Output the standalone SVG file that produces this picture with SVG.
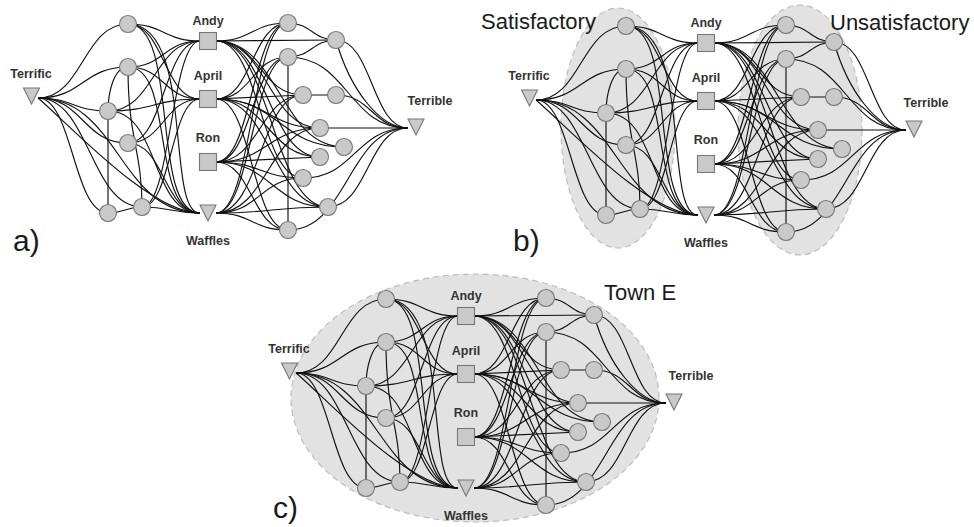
<svg xmlns="http://www.w3.org/2000/svg" xmlns:xlink="http://www.w3.org/1999/xlink" width="974" height="527" viewBox="0 0 974 527">
<style>
.e{fill:none;stroke:#111;stroke-width:1.15}
.c{fill:#c9c9c9;stroke:#777;stroke-width:1.1}
.lb{font-family:"Liberation Sans",Arial,sans-serif;font-weight:bold;font-size:12.5px;fill:#333;text-anchor:middle}
.big{font-family:"Liberation Sans",Arial,sans-serif;font-size:22px;fill:#1a1a1a}
.pl{font-family:"Liberation Sans",Arial,sans-serif;font-size:30px;fill:#1a1a1a}
.grp{fill:#e2e2e2;stroke:#bdbdbd;stroke-width:1.2;stroke-dasharray:6 4}
</style>
<defs>
<circle id="dot" class="c" r="8.5"/>
<rect id="sq" class="c" x="-8.5" y="-8.5" width="17" height="17"/>
<polygon id="tri" class="c" points="-8,-8 8,-8 0,8"/>
<g id="edges" class="e">
<path d="M38 98 C83 98 83 24 128 24"/>
<path d="M38 98 C83 98 83 67 128 67"/>
<path d="M38 98 C73 98 73 111 108 111"/>
<path d="M38 98 C83 98 83 143 128 143"/>
<path d="M38 98 C73 98 73 213 108 213"/>
<path d="M38 98 C90 98 90 207 142 207"/>
<path d="M38 98 C119 98 119 213 200 213"/>
<path d="M38 98 C70 125 150 213 200 213"/>
<path d="M128 24 C164 24 164 41 200 41"/>
<path d="M128 24 C164 24 164 99 200 99"/>
<path d="M128 24 C180 24 150 213 200 213"/>
<path d="M128 24 C195 24 165 213 200 213"/>
<path d="M128 67 C164 67 164 41 200 41"/>
<path d="M128 67 C164 67 164 99 200 99"/>
<path d="M128 67 C175 67 150 213 200 213"/>
<path d="M128 67 C113 67 108 95 108 111"/>
<path d="M108 111 C154 111 154 99 200 99"/>
<path d="M108 111 C154 111 154 41 200 41"/>
<path d="M108 111 C160 111 150 213 200 213"/>
<path d="M128 143 C164 143 164 41 200 41"/>
<path d="M128 143 C164 143 164 99 200 99"/>
<path d="M128 143 C164 143 164 213 200 213"/>
<path d="M128 67 C128 140 142 150 142 207"/>
<path d="M108 111 L108 213"/>
<path d="M142 207 C171 207 171 41 200 41"/>
<path d="M142 207 C171 207 171 99 200 99"/>
<path d="M142 207 C171 207 171 213 200 213"/>
<path d="M108 213 C125 213 125 207 142 207"/>
<path d="M216 41 C252 41 252 23 288 23"/>
<path d="M216 41 L336 40"/>
<path d="M216 41 C260 41 260 95 303 95"/>
<path d="M216 41 C268 41 268 128 320 128"/>
<path d="M216 41 C268 41 268 157 320 157"/>
<path d="M216 41 C260 41 260 178 303 178"/>
<path d="M216 41 C272 41 272 207 328 207"/>
<path d="M216 41 C280 41 280 147 344 147"/>
<path d="M216 99 C252 99 252 23 288 23"/>
<path d="M216 99 C252 99 252 57 288 57"/>
<path d="M216 99 L303 95"/>
<path d="M216 99 C268 99 268 128 320 128"/>
<path d="M216 99 C280 99 280 147 344 147"/>
<path d="M216 99 C268 99 268 157 320 157"/>
<path d="M216 99 C272 99 272 207 328 207"/>
<path d="M216 99 C252 99 252 230 288 230"/>
<path d="M216 162 C252 162 252 23 288 23"/>
<path d="M216 162 C252 162 252 57 288 57"/>
<path d="M216 162 C260 162 260 95 303 95"/>
<path d="M216 162 C268 162 268 128 320 128"/>
<path d="M216 162 L320 157"/>
<path d="M216 162 C260 162 260 178 303 178"/>
<path d="M216 162 C272 162 272 207 328 207"/>
<path d="M216 162 C252 162 252 230 288 230"/>
<path d="M216 213 C252 213 252 23 288 23"/>
<path d="M216 213 C252 213 252 57 288 57"/>
<path d="M216 213 C260 213 260 95 303 95"/>
<path d="M216 213 C268 213 268 128 320 128"/>
<path d="M216 213 C260 213 260 178 303 178"/>
<path d="M216 213 C272 213 272 207 328 207"/>
<path d="M216 213 C252 213 252 230 288 230"/>
<path d="M288 23 C312 23 312 40 336 40"/>
<path d="M288 57 C312 57 312 40 336 40"/>
<path d="M303 95 L336 95"/>
<path d="M288 57 L288 222"/>
<path d="M336 40 C372 40 372 128 408 128"/>
<path d="M336 40 C350 90 380 128 408 128"/>
<path d="M288 57 C348 57 348 128 408 128"/>
<path d="M336 95 C372 95 372 128 408 128"/>
<path d="M320 128 L408 128"/>
<path d="M303 178 C355 178 355 128 408 128"/>
<path d="M328 207 C368 207 368 128 408 128"/>
<path d="M288 230 C348 230 348 128 408 128"/>
</g>
</defs>

<!-- group backgrounds -->
<ellipse class="grp" cx="618" cy="128" rx="57" ry="120"/>
<ellipse class="grp" cx="800" cy="130" rx="62" ry="125"/>
<ellipse class="grp" cx="475" cy="398" rx="184" ry="124"/>

<!-- panel a -->
<g id="panel-a">
<g id="a-connectors"><use xlink:href="#edges"/></g>
<g id="a-terrific"><use xlink:href="#tri" x="31.5" y="96"/><text class="lb" x="31" y="78">Terrific</text></g>
<g id="a-terrible"><use xlink:href="#tri" x="416" y="127"/><text class="lb" x="430" y="105">Terrible</text></g>
<g id="a-andy"><use xlink:href="#sq" x="208" y="41"/><text class="lb" x="208" y="24.5">Andy</text></g>
<g id="a-april"><use xlink:href="#sq" x="208" y="99"/><text class="lb" x="208" y="79.5">April</text></g>
<g id="a-ron"><use xlink:href="#sq" x="208" y="162"/><text class="lb" x="208" y="141.5">Ron</text></g>
<g id="a-waffles"><use xlink:href="#tri" x="208" y="213"/><text class="lb" x="208" y="245">Waffles</text></g>
<g id="a-l1"><use xlink:href="#dot" x="128" y="24"/></g>
<g id="a-l2"><use xlink:href="#dot" x="128" y="67"/></g>
<g id="a-l3"><use xlink:href="#dot" x="108" y="111"/></g>
<g id="a-l4"><use xlink:href="#dot" x="128" y="143"/></g>
<g id="a-l5"><use xlink:href="#dot" x="108" y="213"/></g>
<g id="a-l6"><use xlink:href="#dot" x="142" y="207"/></g>
<g id="a-r1"><use xlink:href="#dot" x="288" y="23"/></g>
<g id="a-r2"><use xlink:href="#dot" x="336" y="40"/></g>
<g id="a-r3"><use xlink:href="#dot" x="288" y="57"/></g>
<g id="a-r4"><use xlink:href="#dot" x="303" y="95"/></g>
<g id="a-r5"><use xlink:href="#dot" x="336" y="95"/></g>
<g id="a-r6"><use xlink:href="#dot" x="320" y="128"/></g>
<g id="a-r7"><use xlink:href="#dot" x="344" y="147"/></g>
<g id="a-r8"><use xlink:href="#dot" x="320" y="157"/></g>
<g id="a-r9"><use xlink:href="#dot" x="303" y="178"/></g>
<g id="a-r10"><use xlink:href="#dot" x="328" y="207"/></g>
<g id="a-r11"><use xlink:href="#dot" x="288" y="230"/></g>
</g>

<!-- panel b -->
<g id="panel-b" transform="translate(498,2)">
<g id="b-connectors"><use xlink:href="#edges"/></g>
<g id="b-terrific"><use xlink:href="#tri" x="31.5" y="96"/><text class="lb" x="31" y="78">Terrific</text></g>
<g id="b-terrible"><use xlink:href="#tri" x="416" y="127"/><text class="lb" x="428" y="105">Terrible</text></g>
<g id="b-andy"><use xlink:href="#sq" x="208" y="41"/><text class="lb" x="208" y="24.5">Andy</text></g>
<g id="b-april"><use xlink:href="#sq" x="208" y="99"/><text class="lb" x="208" y="79.5">April</text></g>
<g id="b-ron"><use xlink:href="#sq" x="208" y="162"/><text class="lb" x="208" y="141.5">Ron</text></g>
<g id="b-waffles"><use xlink:href="#tri" x="208" y="213"/><text class="lb" x="208" y="245">Waffles</text></g>
<g id="b-l1"><use xlink:href="#dot" x="128" y="24"/></g>
<g id="b-l2"><use xlink:href="#dot" x="128" y="67"/></g>
<g id="b-l3"><use xlink:href="#dot" x="108" y="111"/></g>
<g id="b-l4"><use xlink:href="#dot" x="128" y="143"/></g>
<g id="b-l5"><use xlink:href="#dot" x="108" y="213"/></g>
<g id="b-l6"><use xlink:href="#dot" x="142" y="207"/></g>
<g id="b-r1"><use xlink:href="#dot" x="288" y="23"/></g>
<g id="b-r2"><use xlink:href="#dot" x="336" y="40"/></g>
<g id="b-r3"><use xlink:href="#dot" x="288" y="57"/></g>
<g id="b-r4"><use xlink:href="#dot" x="303" y="95"/></g>
<g id="b-r5"><use xlink:href="#dot" x="336" y="95"/></g>
<g id="b-r6"><use xlink:href="#dot" x="320" y="128"/></g>
<g id="b-r7"><use xlink:href="#dot" x="344" y="147"/></g>
<g id="b-r8"><use xlink:href="#dot" x="320" y="157"/></g>
<g id="b-r9"><use xlink:href="#dot" x="303" y="178"/></g>
<g id="b-r10"><use xlink:href="#dot" x="328" y="207"/></g>
<g id="b-r11"><use xlink:href="#dot" x="288" y="230"/></g>
</g>

<!-- panel c -->
<g id="panel-c" transform="translate(258,275)">
<g id="c-connectors"><use xlink:href="#edges"/></g>
<g id="c-terrific"><use xlink:href="#tri" x="31.5" y="96"/><text class="lb" x="31" y="78">Terrific</text></g>
<g id="c-terrible"><use xlink:href="#tri" x="416" y="127"/><text class="lb" x="433" y="105">Terrible</text></g>
<g id="c-andy"><use xlink:href="#sq" x="208" y="41"/><text class="lb" x="208" y="24.5">Andy</text></g>
<g id="c-april"><use xlink:href="#sq" x="208" y="99"/><text class="lb" x="208" y="79.5">April</text></g>
<g id="c-ron"><use xlink:href="#sq" x="208" y="162"/><text class="lb" x="208" y="141.5">Ron</text></g>
<g id="c-waffles"><use xlink:href="#tri" x="208" y="213"/><text class="lb" x="208" y="245">Waffles</text></g>
<g id="c-l1"><use xlink:href="#dot" x="128" y="24"/></g>
<g id="c-l2"><use xlink:href="#dot" x="128" y="67"/></g>
<g id="c-l3"><use xlink:href="#dot" x="108" y="111"/></g>
<g id="c-l4"><use xlink:href="#dot" x="128" y="143"/></g>
<g id="c-l5"><use xlink:href="#dot" x="108" y="213"/></g>
<g id="c-l6"><use xlink:href="#dot" x="142" y="207"/></g>
<g id="c-r1"><use xlink:href="#dot" x="288" y="23"/></g>
<g id="c-r2"><use xlink:href="#dot" x="336" y="40"/></g>
<g id="c-r3"><use xlink:href="#dot" x="288" y="57"/></g>
<g id="c-r4"><use xlink:href="#dot" x="303" y="95"/></g>
<g id="c-r5"><use xlink:href="#dot" x="336" y="95"/></g>
<g id="c-r6"><use xlink:href="#dot" x="320" y="128"/></g>
<g id="c-r7"><use xlink:href="#dot" x="344" y="147"/></g>
<g id="c-r8"><use xlink:href="#dot" x="320" y="157"/></g>
<g id="c-r9"><use xlink:href="#dot" x="303" y="178"/></g>
<g id="c-r10"><use xlink:href="#dot" x="328" y="207"/></g>
<g id="c-r11"><use xlink:href="#dot" x="288" y="230"/></g>
</g>

<!-- captions -->
<text class="pl" x="13" y="251">a)</text>
<text class="pl" x="513" y="251">b)</text>
<text class="pl" x="273" y="518">c)</text>
<text class="big" x="481" y="29">Satisfactory</text>
<text class="big" x="830" y="30">Unsatisfactory</text>
<text class="big" x="604" y="300">Town E</text>
</svg>
